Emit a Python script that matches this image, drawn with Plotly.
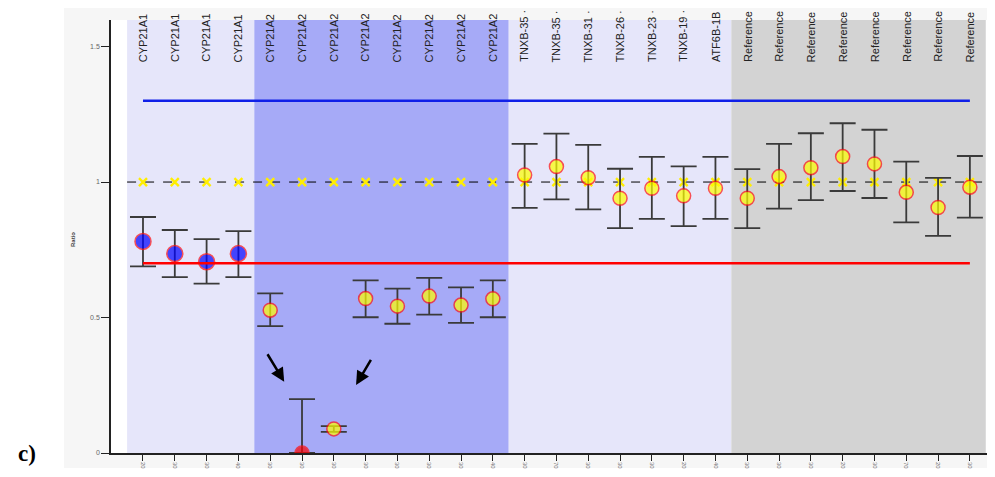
import plotly.graph_objects as go

# ---- data ----
probe_labels = (["CYP21A1"] * 4 + ["CYP21A2"] * 8 +
                ["TNXB-35 ·", "TNXB-35 ·", "TNXB-31 ·", "TNXB-26 ·",
                 "TNXB-23 ·", "TNXB-19 ·", "ATF6B-1B"] + ["Reference"] * 8)
tick_labels = ["20", "30", "30", "40", "30", "30", "30", "30", "30", "30", "30", "40", "30", "70",
               "30", "30", "30", "20", "40", "30", "30", "30", "20", "30", "70", "20", "30"]
ratio = [0.781, 0.736, 0.706, 0.736, 0.527, 0.0, 0.089, 0.570, 0.542, 0.579, 0.546, 0.569,
         1.026, 1.057, 1.016, 0.940, 0.977, 0.949, 0.977,
         0.940, 1.020, 1.053, 1.094, 1.067, 0.962, 0.906, 0.981]
upper = [0.871, 0.823, 0.789, 0.819, 0.589, 0.199, 0.099, 0.637, 0.607, 0.646, 0.611, 0.637,
         1.141, 1.179, 1.137, 1.049, 1.093, 1.058, 1.093,
         1.048, 1.141, 1.180, 1.217, 1.193, 1.075, 1.015, 1.096]
lower = [0.689, 0.649, 0.625, 0.649, 0.468, 0.0, 0.078, 0.501, 0.477, 0.511, 0.480, 0.501,
         0.905, 0.936, 0.899, 0.830, 0.864, 0.837, 0.864,
         0.830, 0.902, 0.933, 0.967, 0.941, 0.851, 0.801, 0.869]
expected = [1.0] * 27
upper_threshold = 1.3
lower_threshold = 0.7
point_colors = (["#0000ff"] * 4 + ["#ffff00"] + ["#ff0000"] + ["#ffff00"] * 21)
point_sizes = ([16] * 4 + [14] * 23)
# band groups: (first index, last index, colour)
bands = [(0, 3, "#e6e6fa"), (4, 11, "#a6aaf7"), (12, 18, "#e6e6fa"), (19, 26, "#d3d3d3")]

n = len(ratio)
xs = list(range(n))
err_plus = [u - r for u, r in zip(upper, ratio)]
err_minus = [r - l for r, l in zip(ratio, lower)]

fig = go.Figure()

# dashed expected line
fig.add_trace(go.Scatter(x=[-0.5, n - 0.5], y=[1.0, 1.0], mode="lines",
                         line=dict(color="black", width=1, dash="dash"),
                         hoverinfo="skip", showlegend=False))
# expected markers
fig.add_trace(go.Scatter(x=xs, y=expected, mode="markers",
                         marker=dict(symbol="x-thin", size=8,
                                     line=dict(color="#ffee00", width=2.4)),
                         showlegend=False))
# data points with error bars
fig.add_trace(go.Scatter(x=xs, y=ratio, mode="markers",
                         marker=dict(color=point_colors, size=point_sizes,
                                     line=dict(color="#ff1010", width=1.5)),
                         error_y=dict(type="data", array=err_plus, arrayminus=err_minus,
                                      symmetric=False, color="#3a3a3a", thickness=1.8, width=13),
                         showlegend=False))
# thresholds
fig.add_trace(go.Scatter(x=[0, n - 1], y=[upper_threshold] * 2, mode="lines",
                         line=dict(color="#1020e8", width=2.5), showlegend=False))
fig.add_trace(go.Scatter(x=[0, n - 1], y=[lower_threshold] * 2, mode="lines",
                         line=dict(color="#ff0000", width=2.5), showlegend=False))

# background shapes
shapes = [
    dict(type="rect", xref="paper", yref="paper", x0=-0.0532, x1=1.01, y0=-0.0346, y1=1.04,
         fillcolor="#f6f6f6", line=dict(width=0), layer="below"),
    dict(type="rect", xref="paper", yref="paper", x0=0, x1=1.01, y0=0, y1=1,
         fillcolor="white", line=dict(width=0), layer="below"),
]
for a, b, c in bands:
    shapes.append(dict(type="rect", xref="x", yref="paper", x0=a - 0.5, x1=b + 0.5, y0=0, y1=1,
                       fillcolor=c, line=dict(width=0), layer="below"))

annotations = []
for i, lab in enumerate(probe_labels):
    annotations.append(dict(x=i, y=0.898, xref="x", yref="paper", text=lab, textangle=-90,
                            showarrow=False, xanchor="center", yanchor="bottom",
                            font=dict(family="Liberation Sans, Arial", size=11, color="#222")))
annotations += [
    dict(x=-0.0486, y=0.492, xref="paper", yref="paper", text="<b>Ratio</b>", textangle=-90,
         showarrow=False, font=dict(family="Liberation Sans, Arial", size=6, color="#444")),
    dict(x=-0.107, y=-0.035, xref="paper", yref="paper", text="<b>c)</b>", showarrow=False,
         font=dict(family="Liberation Serif, Times New Roman", size=23, color="black")),
    dict(x=4.44, y=0.263, xref="x", yref="y", text="", showarrow=True, arrowhead=2,
         arrowsize=1.1, arrowwidth=2.5, arrowcolor="black", ax=-17.6, ay=-29),
    dict(x=6.70, y=0.251, xref="x", yref="y", text="", showarrow=True, arrowhead=2,
         arrowsize=1.1, arrowwidth=2.5, arrowcolor="black", ax=15.7, ay=-26.7),
]

fig.update_layout(
    width=987, height=469,
    margin=dict(l=103, r=0, t=12, b=24),
    paper_bgcolor="white", plot_bgcolor="white",
    shapes=shapes, annotations=annotations,
    xaxis=dict(range=[-1.006, 26.79], tickvals=xs, ticktext=tick_labels, tickangle=90,
               ticks="outside", ticklen=6, tickcolor="#222", showgrid=False, zeroline=False,
               showline=True, linecolor="#222", linewidth=1.5,
               tickfont=dict(family="Liberation Sans, Arial", size=6, color="#777")),
    yaxis=dict(range=[0, 1.598], tickvals=[0, 0.5, 1, 1.5], ticktext=["0", "0.5", "1", "1.5"],
               ticks="outside", ticklen=8, tickcolor="#222", showgrid=False, zeroline=False,
               showline=True, linecolor="#222", linewidth=1.5,
               tickfont=dict(family="Liberation Sans, Arial", size=7, color="#666")),
)

fig.write_html("out.html")
